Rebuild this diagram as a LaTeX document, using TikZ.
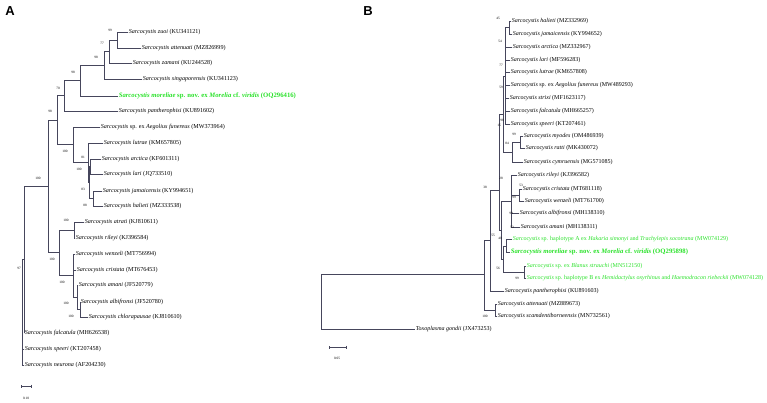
\documentclass[tikz,border=0pt]{standalone}
\usepackage{fontspec}
\setmainfont{Liberation Serif}
\newfontfamily\panelfont{Liberation Sans}
\usetikzlibrary{positioning,arrows.meta}
\definecolor{treeline}{RGB}{70,70,92}
\definecolor{grn}{RGB}{40,225,40}
\newcommand{\sarc}[1]{\textit{Sarcocystis #1}}
\tikzset{
  br/.style={draw=treeline, line width=0.7pt},
  leafA/.style={anchor=west, inner sep=0.6pt, font=\fontsize{6.1}{7}\selectfont},
  leafB/.style={anchor=west, inner sep=0.6pt, font=\fontsize{6}{7}\selectfont},
  greenB/.style={leafB, text=grn},
  newsp/.style={text=grn, font=\fontsize{6.7}{7}\selectfont\bfseries},
  bs/.style={inner sep=0pt, font=\fontsize{3.4}{4}\selectfont},
  panel/.style={inner sep=0pt, font=\panelfont\bfseries\fontsize{13}{13}\selectfont},
  scalebar/.style={draw=treeline, line width=0.7pt, {Bar[width=3pt]}-{Bar[width=3pt]}}
}
\begin{document}
\begin{tikzpicture}[x=1pt, y=-1pt]
\useasboundingbox (0,0) rectangle (767,402);
\node[panel] (labA) at (10,11) {A};
\node[panel] (labB) at (368,11) {B};

\node[leafA] (zuoi) at (128,32) {\sarc{zuoi} (KU341121)};
\node[leafA] (atte) at (141,48) {\sarc{attenuati} (MZ826999)};
\node[leafA] (zama) at (132,63) {\sarc{zamani} (KU244528)};
\node[leafA] (sing) at (142,79) {\sarc{singaporensis} (KU341123)};
\node[leafA, newsp] (morA) at (118,96) {\sarc{moreliae} sp. nov. ex \textit{Morelia} cf. \textit{viridis} (OQ296416)};
\node[leafA] (panA) at (118,111) {\sarc{pantherophisi} (KU891602)};
\node[leafA] (aegA) at (100,127) {\textit{Sarcocystis} sp. ex \textit{Aegolius funereus} (MW373964)};
\node[leafA] (lutA) at (103,143) {\sarc{lutrae} (KM657805)};
\node[leafA] (arcA) at (101,159) {\sarc{arctica} (KF601311)};
\node[leafA] (larA) at (103,174) {\sarc{lari} (JQ733510)};
\node[leafA] (jamA) at (102,191) {\sarc{jamaicensis} (KY994651)};
\node[leafA] (halA) at (103,206) {\sarc{halieti} (MZ333538)};
\node[leafA] (atrA) at (84,222) {\sarc{atrati} (KJ810611)};
\node[leafA] (rilA) at (75,238) {\sarc{rileyi} (KJ396584)};
\node[leafA] (wenA) at (75,254) {\sarc{wenzeli} (MT756994)};
\node[leafA] (criA) at (76,270) {\sarc{cristata} (MT676453)};
\node[leafA] (amaA) at (78,285) {\sarc{amani} (JF520779)};
\node[leafA] (albA) at (80,302) {\sarc{albifronsi} (JF520780)};
\node[leafA] (chlA) at (88,317) {\sarc{chlorapausae} (KJ810610)};
\node[leafA] (falA) at (24,333) {\sarc{falcatula} (MH626538)};
\node[leafA] (speA) at (24,349) {\sarc{speeri} (KT207458)};
\node[leafA] (neuA) at (24,365) {\sarc{neurona} (AF204230)};

\foreach \n/\x/\y in {a1/117/40, a2/109/51.5, a3/104/65, a4/80/80.5, a5/64/95.75,
  a6/88/162, a7/89/182, a8/90/166.5, a9/93/198.5, a10/73/144, a11/57/120,
  a12/74/230, a13/80/309.5, a14/77/297, a15/73/275, a16/59/252, a17/48/186,
  a18/24/259, rA/22/312}
  \coordinate (\n) at (\x,\y);

\foreach \p/\c in {a1/zuoi.west, a1/atte.west, a2/a1, a2/zama.west, a3/a2, a3/sing.west,
  a4/a3, a4/morA.west, a5/a4, a5/panA.west, a8/arcA.west, a8/larA.west,
  a9/jamA.west, a9/halA.west, a7/a8, a7/a9, a6/lutA.west, a6/a7, a10/aegA.west,
  a10/a6, a11/a5, a11/a10, a12/atrA.west, a12/rilA.west, a13/albA.west,
  a13/chlA.west, a14/amaA.west, a14/a13, a15/wenA.west, a15/criA.west, a15/a14,
  a16/a12, a16/a15, a17/a11, a17/a16, a18/a17, a18/falA.west, rA/a18,
  rA/speA.west, rA/neuA.west}
  \draw[br] (\p) |- (\c);

\foreach \x/\y/\t [count=\i] in {110/30/99, 102/43/77, 96/57/98, 73/72/98, 58/88/70,
  50/111/98, 65/151/100, 83/157/81, 79/169/100, 83/189/83, 85/205/88, 38/178/100,
  66/220/100, 52/259/100, 62/282/100, 66/303/100, 71/316/100, 19/268/97}
  \node[bs] (bsA\i) at (\x,\y) {\t};

\coordinate (sA1) at (21,386);
\coordinate (sA2) at (32,386);
\draw[scalebar] (sA1) -- (sA2);
\node[bs] (sclA) at (26,398) {0.10};

\node[leafB] (halB) at (511,21) {\sarc{halieti} (MZ332969)};
\node[leafB] (jamB) at (512,34) {\sarc{jamaicensis} (KY994652)};
\node[leafB] (arcB) at (512,47) {\sarc{arctica} (MZ332967)};
\node[leafB] (larB) at (510,60) {\sarc{lari} (MF596283)};
\node[leafB] (lutB) at (510,72) {\sarc{lutrae} (KM657808)};
\node[leafB] (aegB) at (510,85) {\textit{Sarcocystis} sp. ex \textit{Aegolius funereus} (MW489293)};
\node[leafB] (strB) at (509,98) {\sarc{strixi} (MF1623117)};
\node[leafB] (falB) at (510,111) {\sarc{falcatula} (MH665257)};
\node[leafB] (speB) at (510,124) {\sarc{speeri} (KT207461)};
\node[leafB] (myoB) at (523,136) {\sarc{myodes} (OM486939)};
\node[leafB] (ratB) at (525,148) {\sarc{ratti} (MK430072)};
\node[leafB] (cymB) at (523,162) {\sarc{cymruensis} (MG571085)};
\node[leafB] (rilB) at (517,175) {\sarc{rileyi} (KJ396582)};
\node[leafB] (criB) at (522,189) {\sarc{cristata} (MT681118)};
\node[leafB] (wenB) at (524,201) {\sarc{wenzeli} (MT761700)};
\node[leafB] (albB) at (519,213) {\sarc{albifronsi} (MH138310)};
\node[leafB] (amaB) at (520,227) {\sarc{amani} (MH138311)};
\node[greenB] (hapA) at (512,239) {\textit{Sarcocystis} sp. haplotype A ex \textit{Hakaria simonyi} and \textit{Trachylepis socotrana} (MW074129)};
\node[greenB, newsp] (morB) at (510,252) {\sarc{moreliae} sp. nov. ex \textit{Morelia} cf. \textit{viridis} (OQ295898)};
\node[greenB] (blaB) at (526,266) {\textit{Sarcocystis} sp. ex \textit{Blanus strauchi} (MN512150)};
\node[greenB] (hapB) at (526,278) {\textit{Sarcocystis} sp. haplotype B ex \textit{Hemidactylus oxyrhinus} and \textit{Haemodracon riebeckii} (MW074128)};
\node[leafB] (panB) at (504,291) {\sarc{pantherophisi} (KU891603)};
\node[leafB] (attB) at (497,304) {\sarc{attenuati} (MZ889673)};
\node[leafB] (scaB) at (497,316) {\sarc{scamdentiborneensis} (MN732561)};
\node[leafB] (toxB) at (415,329) {\textit{Toxoplasma gondii} (JX473253)};

\foreach \n/\x/\y in {b1/509/27.5, P1/505/76, b2/520/142, R1/512/152, c1/519/195,
  RI/511/201, gAM/506/246, gBB/524/272, G/503/259, P0/503/114, Q/501/230,
  NB4/499/190, NB2/490/240, NB3/495/310, NB1/484/274, RB/321/301}
  \coordinate (\n) at (\x,\y);

\foreach \p/\c in {b1/halB.west, b1/jamB.west, P1/b1, P1/arcB.west, P1/larB.west,
  P1/lutB.west, P1/aegB.west, P1/strB.west, P1/falB.west, P1/speB.west,
  b2/myoB.west, b2/ratB.west, R1/b2, R1/cymB.west, c1/criB.west, c1/wenB.west,
  RI/rilB.west, RI/c1, RI/albB.west, RI/amaB.west, gAM/hapA.west, gAM/morB.west,
  gBB/blaB.west, gBB/hapB.west, G/gAM, G/gBB, P0/P1, P0/R1, Q/RI, Q/G,
  NB4/P0, NB4/Q, NB2/NB4, NB2/panB.west, NB3/attB.west, NB3/scaB.west,
  NB1/NB2, NB1/NB3, RB/NB1, RB/toxB.west}
  \draw[br] (\p) |- (\c);

\foreach \x/\y/\t [count=\i] in {498/18/45, 500/41/54, 501/65/77, 501/87/59, 502/120/98,
  499/125/15, 514/134/99, 507/143/84, 501/178/28, 485/187/38, 521/185/53, 514/197/99,
  511/213/99, 512/227/53, 493/235/55, 500/238/40, 498/268/56, 517/278/99, 485/316/100}
  \node[bs] (bsB\i) at (\x,\y) {\t};

\coordinate (sB1) at (329,347);
\coordinate (sB2) at (347,347);
\draw[scalebar] (sB1) -- (sB2);
\node[bs] (sclB) at (337,358) {0.05};
\end{tikzpicture}
\end{document}
